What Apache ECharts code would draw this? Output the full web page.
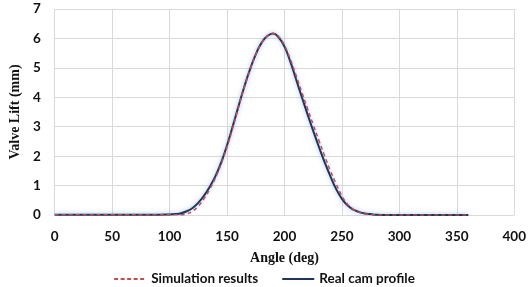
<!DOCTYPE html>
<html>
<head>
<meta charset="utf-8">
<script src="https://cdn.jsdelivr.net/npm/echarts@6/dist/echarts.min.js"></script>
<style>
html,body{margin:0;padding:0;background:#fff;}
#chart{width:529px;height:287px;}
</style>
</head>
<body>
<div id="chart"></div>
<script>
// angle (deg) vs valve lift (mm)
var realAngle = [0, 50, 90, 100, 105, 110, 115, 120, 125, 130, 135, 140, 145, 150, 155, 160, 165, 170, 175, 180, 185, 190, 195, 200, 205, 210, 215, 220, 225, 230, 235, 240, 245, 250, 255, 260, 265, 270, 275, 280, 290, 320, 360];
var realLift = [0.01, 0.01, 0.01, 0.02, 0.03, 0.06, 0.13, 0.24, 0.42, 0.66, 0.96, 1.33, 1.8, 2.37, 3.02, 3.7, 4.36, 4.95, 5.46, 5.85, 6.08, 6.17, 6.03, 5.72, 5.22, 4.62, 4.02, 3.43, 2.86, 2.31, 1.79, 1.31, 0.88, 0.55, 0.32, 0.18, 0.1, 0.05, 0.03, 0.01, 0, 0, 0];

var simAngle = [0, 50, 90, 100, 110, 115, 120, 125, 130, 135, 140, 145, 150, 155, 160, 165, 170, 175, 180, 185, 190, 195, 200, 205, 210, 215, 220, 225, 230, 235, 240, 245, 250, 255, 260, 265, 270, 280, 290, 320, 360];
var simLift = [0.01, 0.01, 0.01, 0.01, 0.01, 0.04, 0.13, 0.3, 0.56, 0.88, 1.27, 1.75, 2.32, 2.97, 3.67, 4.33, 4.93, 5.45, 5.84, 6.08, 6.17, 6.06, 5.76, 5.3, 4.75, 4.18, 3.62, 3.07, 2.53, 2.0, 1.5, 1.05, 0.65, 0.36, 0.19, 0.09, 0.04, 0.01, 0, 0, 0];

var seriesNames = ['Simulation results', 'Real cam profile'];

function pairs(xs, ys){
	var out = [];
	for(var i=0;i<xs.length;i++){
		out.push([xs[i], ys[i]]);
	}
	return out;
}

var tickFont = {fontFamily: 'Lato', fontWeight: 'bold', fontSize: 13.5, color: '#111'};
var titleFont = {fontFamily: 'Liberation Serif', fontWeight: 'bold', fontSize: 14, color: '#111'};
var gridLine = {show: true, lineStyle: {color: '#d9d9d9', width: 1}};

// legend icons drawn as plain strokes (dashed / solid)
var dashIcon = 'path://M0,0h4v2h-4z M6.5,0h4v2h-4z M13,0h4v2h-4z M19.5,0h4v2h-4z M26,0h4v2h-4z M32,0h0.01v2h-0.01z';
var solidIcon = 'path://M0,0h32v2h-32z';

var myChart = echarts.init(document.getElementById('chart'));
var option = {
	animation: false,
	grid: {left: 49, right: 13, top: 9, bottom: 72},
	xAxis: {
		type: 'value',
		min: 0, max: 400, interval: 50,
		axisLine: {show: false},
		axisTick: {show: false},
		splitLine: gridLine,
		axisLabel: Object.assign({margin: 15}, tickFont),
		name: 'Angle (deg)',
		nameLocation: 'middle',
		nameGap: 36,
		nameTextStyle: titleFont
	},
	yAxis: {
		type: 'value',
		min: 0, max: 7, interval: 1,
		axisLine: {show: false},
		axisTick: {show: false},
		splitLine: gridLine,
		axisLabel: Object.assign({margin: 14}, tickFont),
		name: 'Valve Lift (mm)',
		nameLocation: 'middle',
		nameGap: 31,
		nameTextStyle: titleFont
	},
	legend: {
		bottom: -4,
		left: 'center',
		itemWidth: 32,
		itemHeight: 2,
		itemGap: 24,
		textStyle: {fontFamily: 'Lato', fontWeight: 'bold', fontSize: 13.5, color: '#111'},
		data: [
			{name: seriesNames[0], icon: dashIcon, itemStyle: {color: '#c0504d'}},
			{name: seriesNames[1], icon: solidIcon, itemStyle: {color: '#1f3560'}}
		]
	},
	series: [
		{
			name: seriesNames[1],
			type: 'line',
			smooth: 0.5,
			symbol: 'none',
			z: 2,
			data: pairs(realAngle, realLift),
			lineStyle: {color: '#1f3560', width: 2, shadowColor: 'rgba(120,160,215,0.7)', shadowBlur: 4},
			itemStyle: {color: '#1f3560'}
		},
		{
			name: seriesNames[0],
			type: 'line',
			smooth: 0.5,
			symbol: 'none',
			z: 3,
			data: pairs(simAngle, simLift),
			lineStyle: {color: '#c0504d', width: 1.5, type: [4, 3]},
			itemStyle: {color: '#c0504d'}
		}
	]
};
myChart.setOption(option);
</script>
</body>
</html>
